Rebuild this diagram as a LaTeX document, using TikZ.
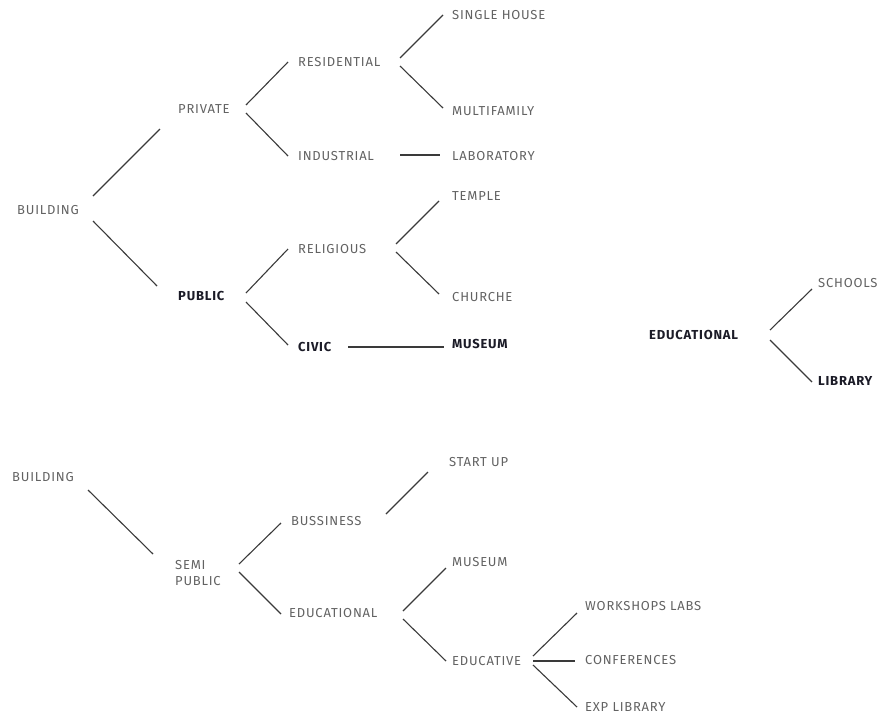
\documentclass[tikz,border=0pt]{standalone}
\usepackage{fontspec}
\setmainfont{Fira Sans}[LetterSpace=6]
\usepackage{xcolor}
\usepackage{tikz}
\definecolor{LabelGray}{HTML}{626262}
\definecolor{KeyInk}{HTML}{1B1B27}
\definecolor{BranchInk}{HTML}{3A3A3A}

\begin{document}
\begin{tikzpicture}[x=1pt,y=-1pt,
    lbl/.style={anchor=west,inner sep=0pt,text=LabelGray,font=\fontsize{13}{16}\selectfont,align=left},
    key/.style={lbl,text=KeyInk,font=\fontsize{13}{16}\selectfont\bfseries},
    branch/.style={draw=BranchInk,line width=1.1pt}]
    \useasboundingbox (0,0) rectangle (881,715);

    % upper tree
    \node[lbl] (bld) at (17,210) {BUILDING};
    \node[lbl] (priv) at (178,109) {PRIVATE};
    \node[key] (pub) at (178,296) {PUBLIC};
    \node[lbl] (res) at (298,62) {RESIDENTIAL};
    \node[lbl] (ind) at (298,156) {INDUSTRIAL};
    \node[lbl] (rel) at (298,249) {RELIGIOUS};
    \node[key] (civ) at (298,347) {CIVIC};
    \node[lbl] (single) at (452,15) {SINGLE HOUSE};
    \node[lbl] (multi) at (452,111) {MULTIFAMILY};
    \node[lbl] (lab) at (452,156) {LABORATORY};
    \node[lbl] (temple) at (452,196) {TEMPLE};
    \node[lbl] (church) at (452,297) {CHURCHE};
    \node[key] (museum) at (452,344) {MUSEUM};
    \node[key] (edu) at (649,335) {EDUCATIONAL};
    \node[lbl] (school) at (818,283) {SCHOOLS};
    \node[key] (library) at (818,381) {LIBRARY};

    \draw[branch] ([xshift=76pt,yshift=14pt]bld.west) -- ([xshift=-18pt,yshift=-20pt]priv.west);
    \draw[branch] ([xshift=76pt,yshift=-11pt]bld.west) -- ([xshift=-21pt,yshift=10pt]pub.west);
    \draw[branch] ([xshift=68pt,yshift=4pt]priv.west) -- ([xshift=-10pt]res.west);
    \draw[branch] ([xshift=68pt,yshift=-4pt]priv.west) -- ([xshift=-10pt]ind.west);
    \draw[branch] ([xshift=102pt,yshift=4pt]res.west) -- ([xshift=-9pt]single.west);
    \draw[branch] ([xshift=102pt,yshift=-4pt]res.west) -- ([xshift=-9pt,yshift=3pt]multi.west);
    \draw[branch] ([xshift=102pt,yshift=1pt]ind.west) -- ([xshift=-12pt,yshift=1pt]lab.west);
    \draw[branch] ([xshift=68pt,yshift=3pt]pub.west) -- ([xshift=-10pt]rel.west);
    \draw[branch] ([xshift=68pt,yshift=-6pt]pub.west) -- ([xshift=-10pt,yshift=2pt]civ.west);
    \draw[branch] ([xshift=98pt,yshift=5pt]rel.west) -- ([xshift=-13pt,yshift=-5pt]temple.west);
    \draw[branch] ([xshift=98pt,yshift=-3pt]rel.west) -- ([xshift=-13pt,yshift=3pt]church.west);
    \draw[branch] ([xshift=50pt]civ.west) -- ([xshift=-8pt,yshift=-3pt]museum.west);
    \draw[branch] ([xshift=121pt,yshift=5pt]edu.west) -- ([xshift=-6pt,yshift=-6pt]school.west);
    \draw[branch] ([xshift=121pt,yshift=-5pt]edu.west) -- ([xshift=-6pt,yshift=-1pt]library.west);

    % lower tree
    \node[lbl] (bldb) at (12,477) {BUILDING};
    \node[lbl] (semi) at (175,573) {SEMI\\PUBLIC};
    \node[lbl] (buss) at (291,521) {BUSSINESS};
    \node[lbl] (edub) at (289,613) {EDUCATIONAL};
    \node[lbl] (startup) at (449,462) {START UP};
    \node[lbl] (museumb) at (452,562) {MUSEUM};
    \node[lbl] (educ) at (452,661) {EDUCATIVE};
    \node[lbl] (labs) at (585,606) {WORKSHOPS LABS};
    \node[lbl] (conf) at (585,660) {CONFERENCES};
    \node[lbl] (exp) at (585,707) {EXP LIBRARY};

    \draw[branch] ([xshift=76pt,yshift=-13pt]bldb.west) -- ([xshift=-22pt,yshift=19pt]semi.west);
    \draw[branch] ([xshift=64pt,yshift=9pt]semi.west) -- ([xshift=-10pt,yshift=-2pt]buss.west);
    \draw[branch] ([xshift=64pt,yshift=1pt]semi.west) -- ([xshift=-8pt,yshift=-1pt]edub.west);
    \draw[branch] ([xshift=95pt,yshift=7pt]buss.west) -- ([xshift=-21pt,yshift=-10pt]startup.west);
    \draw[branch] ([xshift=114pt,yshift=2pt]edub.west) -- ([xshift=-6pt,yshift=-6pt]museumb.west);
    \draw[branch] ([xshift=114pt,yshift=-6pt]edub.west) -- ([xshift=-6pt]educ.west);
    \draw[branch] ([xshift=81pt,yshift=5pt]educ.west) -- ([xshift=-8pt,yshift=-7pt]labs.west);
    \draw[branch] ([xshift=81pt]educ.west) -- ([xshift=-10pt,yshift=-1pt]conf.west);
    \draw[branch] ([xshift=81pt,yshift=-4pt]educ.west) -- ([xshift=-8pt]exp.west);
\end{tikzpicture}
\end{document}
